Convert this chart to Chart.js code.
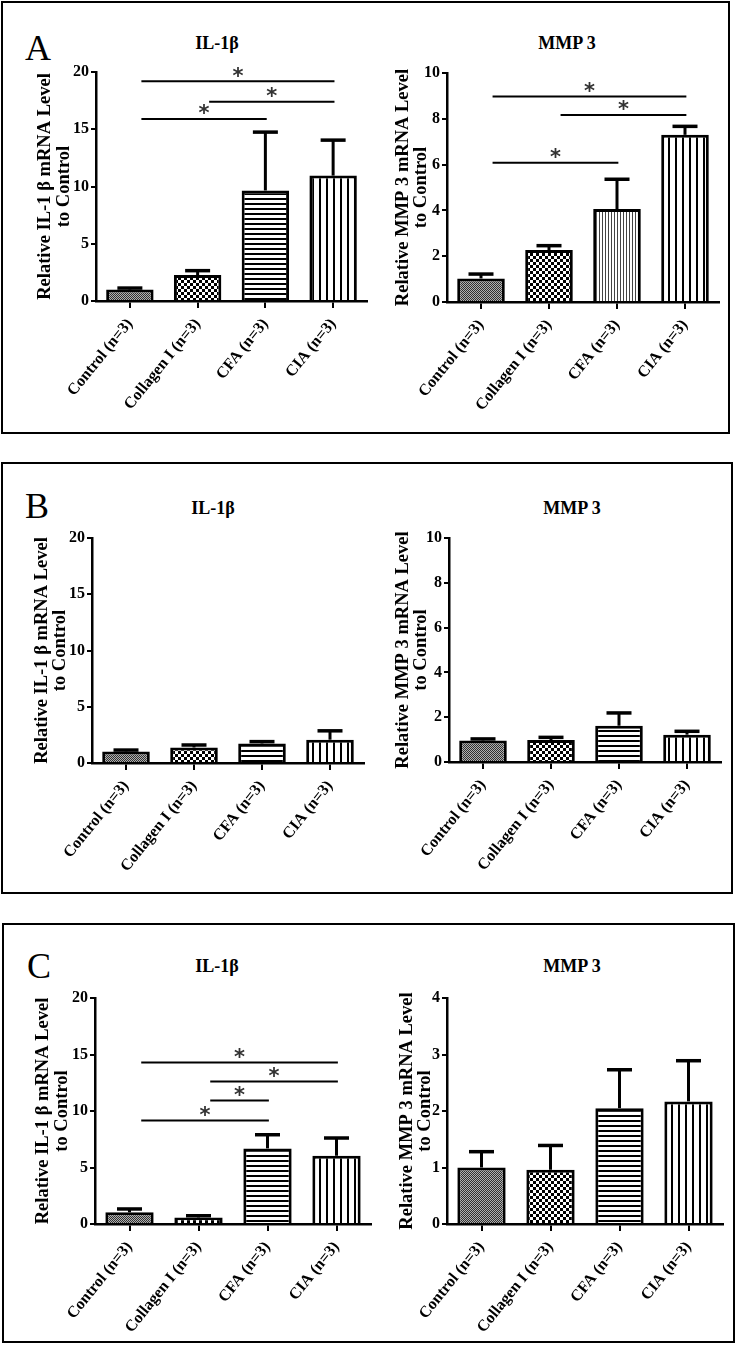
<!DOCTYPE html>
<html>
<head>
<meta charset="utf-8">
<script src="https://cdn.jsdelivr.net/npm/chart.js@4.4.0/dist/chart.umd.min.js"></script>
<style>
  body { margin: 0; background: #fff; }
  #page { position: relative; width: 737px; height: 1357px; background: #fff; overflow: hidden; }
  .panel { position: absolute; border: 2px solid #000; box-sizing: border-box; }
  .letter { position: absolute; font-family: "Liberation Serif", serif; font-size: 36px; line-height: 1; color: #000; }
  .title { position: absolute; font-family: "Liberation Serif", serif; font-weight: bold; font-size: 18px; line-height: 1; color: #000; transform: translate(-50%, -50%); white-space: nowrap; }
  canvas { position: absolute; }
</style>
</head>
<body>
<div id="page">
  <div class="panel" style="left:1px;top:1px;width:729px;height:433px"></div>
  <div class="panel" style="left:1px;top:462px;width:732px;height:432px"></div>
  <div class="panel" style="left:2px;top:923px;width:733px;height:420px"></div>

  <div class="letter" style="left:25px;top:30px">A</div>
  <div class="letter" style="left:25px;top:488px">B</div>
  <div class="letter" style="left:27px;top:948px">C</div>

  <div class="title" style="left:217px;top:43px">IL-1β</div>
  <div class="title" style="left:567px;top:43px">MMP 3</div>
  <div class="title" style="left:213px;top:508px">IL-1β</div>
  <div class="title" style="left:572px;top:508px">MMP 3</div>
  <div class="title" style="left:217px;top:966px">IL-1β</div>
  <div class="title" style="left:572px;top:966px">MMP 3</div>

  <canvas id="aIL"></canvas>
  <canvas id="aMMP"></canvas>
  <canvas id="bIL"></canvas>
  <canvas id="bMMP"></canvas>
  <canvas id="cIL"></canvas>
  <canvas id="cMMP"></canvas>
</div>

<script>
const categories = ['Control (n=3)', 'Collagen I (n=3)', 'CFA (n=3)', 'CIA (n=3)'];

// Panel A (means, upper SEM)
const ilA = [1.0, 2.27, 9.65, 10.95];
const ilAErr = [0.13, 0.38, 5.1, 3.1];
const mmpA = [1.03, 2.27, 4.06, 7.3];
const mmpAErr = [0.19, 0.19, 1.3, 0.37];

// Panel B
const ilB = [1.03, 1.38, 1.74, 2.07];
const ilBErr = [0.12, 0.22, 0.16, 0.79];
const mmpB = [0.96, 0.98, 1.62, 1.22];
const mmpBErr = [0.07, 0.12, 0.57, 0.15];

// Panel C
const ilC = [1.03, 0.58, 6.69, 6.04];
const ilCErr = [0.3, 0.15, 1.21, 1.57];
const mmpC = [1.0, 0.96, 2.05, 2.17];
const mmpCErr = [0.28, 0.43, 0.68, 0.72];

// significance brackets: group from, group to, height
const sigFromA_IL = [0, 1, 0];
const sigToA_IL = [3, 3, 2];
const sigYA_IL = [19.2, 17.4, 15.9];
const sigFromA_MMP = [0, 1, 0];
const sigToA_MMP = [3, 3, 2];
const sigYA_MMP = [8.97, 8.17, 6.08];
const sigFromC_IL = [0, 1, 1, 0];
const sigToC_IL = [3, 3, 2, 2];
const sigYC_IL = [14.3, 12.62, 10.94, 9.17];

const ilTicks = [0, 5, 10, 15, 20];
const mmpTicks = [0, 2, 4, 6, 8, 10];
const mmpCTicks = [0, 1, 2, 3, 4];

const ilTitle = ['Relative IL-1 β mRNA Level', 'to Control'];
const mmpTitle = ['Relative MMP 3 mRNA Level', 'to Control'];

// fill patterns
function makePattern(w, h, draw) {
    let c = document.createElement('canvas');
    c.width = w; c.height = h;
    let g = c.getContext('2d');
    g.fillStyle = '#fff';
    g.fillRect(0, 0, w, h);
    draw(g);
    return g.createPattern(c, 'repeat');
}

const fineGray = makePattern(2, 2, g => {
    g.fillStyle = '#b0b0b0'; g.fillRect(0, 0, 2, 2);
    g.fillStyle = '#303030'; g.fillRect(0, 0, 1, 1); g.fillRect(1, 1, 1, 1);
});
const checker = makePattern(6, 6, g => {
    g.fillStyle = '#000'; g.fillRect(3, 0, 3, 3); g.fillRect(0, 3, 3, 3);
});
const hLines = makePattern(1, 5, g => {
    g.fillStyle = '#000'; g.fillRect(0, 0, 1, 2);
});
const vLines = makePattern(7, 1, g => {
    g.fillStyle = '#000'; g.fillRect(0, 0, 2, 1);
});
const vFine = makePattern(3, 1, g => {
    g.fillStyle = '#444'; g.fillRect(0, 0, 1, 1);
});

const fillsStd = [fineGray, checker, hLines, vLines];
const fillsAMMP = [fineGray, checker, vFine, vLines];

const serif = '"Liberation Serif", "Times New Roman", serif';

const errorBars = {
    id: 'errorBars',
    afterDatasetsDraw(chart, args, opts) {
        const ctx = chart.ctx;
        const yS = chart.scales.y;
        const meta = chart.getDatasetMeta(0);
        const vals = chart.data.datasets[0].data;
        ctx.save();
        ctx.strokeStyle = '#000';
        meta.data.forEach((bar, i) => {
            let top = yS.getPixelForValue(vals[i] + opts.err[i]);
            ctx.lineWidth = 3;
            ctx.beginPath();
            ctx.moveTo(bar.x, bar.y);
            ctx.lineTo(bar.x, top);
            ctx.stroke();
            ctx.lineWidth = 3.5;
            ctx.beginPath();
            ctx.moveTo(bar.x - 12.5, top);
            ctx.lineTo(bar.x + 12.5, top);
            ctx.stroke();
        });
        ctx.restore();
    }
};

const sigBars = {
    id: 'sigBars',
    afterDraw(chart, args, opts) {
        if (!opts.from) return;
        const ctx = chart.ctx;
        const xS = chart.scales.x, yS = chart.scales.y;
        ctx.save();
        ctx.strokeStyle = '#000';
        ctx.lineWidth = 2;
        ctx.fillStyle = '#333';
        ctx.font = 'bold 21px "DejaVu Sans"';
        ctx.textAlign = 'center';
        ctx.textBaseline = 'middle';
        for (let i = 0; i < opts.from.length; i++) {
            let x1 = xS.getPixelForValue(opts.from[i] + 0.17);
            let x2 = xS.getPixelForValue(opts.to[i] + 0.02);
            let y = yS.getPixelForValue(opts.y[i]);
            ctx.beginPath();
            ctx.moveTo(x1, y);
            ctx.lineTo(x2, y);
            ctx.stroke();
            ctx.fillText('*', (x1 + x2) / 2, y - 4);
        }
        ctx.restore();
    }
};

function drawChart(id, box, plot, values, err, fills, ticks, yTitle, titlePad, sig) {
    const canvas = document.getElementById(id);
    const w = box.right - box.left, h = box.bottom - box.top;
    canvas.width = w; canvas.height = h;
    canvas.style.left = box.left + 'px';
    canvas.style.top = box.top + 'px';
    canvas.style.width = w + 'px';
    canvas.style.height = h + 'px';

    return new Chart(canvas, {
        type: 'bar',
        data: {
            labels: categories,
            datasets: [{
                data: values,
                backgroundColor: fills,
                borderColor: '#000',
                borderWidth: 3,
                borderSkipped: 'bottom',
                barPercentage: 0.7,
                categoryPercentage: 1
            }]
        },
        options: {
            responsive: false,
            animation: false,
            devicePixelRatio: 1,
            layout: {
                padding: { left: 0, top: plot.top - box.top, right: box.right - plot.right, bottom: 0 }
            },
            plugins: {
                legend: { display: false },
                tooltip: { enabled: false },
                errorBars: { err: err },
                sigBars: sig || {}
            },
            scales: {
                x: {
                    grid: { offset: false, drawOnChartArea: false, tickLength: 7, color: '#000', lineWidth: 2 },
                    border: { color: '#000', width: 2.5 },
                    ticks: {
                        autoSkip: false, minRotation: 51, maxRotation: 51, padding: 7, color: '#000',
                        font: { family: serif, weight: 'bold', size: 16 }
                    },
                    afterFit: s => { s.height = box.bottom - plot.bottom; }
                },
                y: {
                    min: ticks[0],
                    max: ticks[ticks.length - 1],
                    afterBuildTicks: s => { s.ticks = ticks.map(v => ({ value: v })); },
                    grid: { drawOnChartArea: false, tickLength: 5, color: '#000', lineWidth: 2 },
                    border: { color: '#000', width: 2.5 },
                    ticks: { padding: 2, color: '#000', font: { family: serif, weight: 'bold', size: 16 } },
                    title: {
                        display: true, text: yTitle, color: '#000',
                        font: { family: serif, weight: 'bold', size: 18.5, lineHeight: 1.0 },
                        padding: { top: titlePad, bottom: 0 }
                    },
                    afterFit: s => { s.width = plot.left - box.left; }
                }
            }
        },
        plugins: [errorBars, sigBars]
    });
}

drawChart('aIL', { left: 4, top: 58, right: 372, bottom: 430 }, { left: 96, top: 72, right: 367, bottom: 301 },
    ilA, ilAErr, fillsStd, ilTicks, ilTitle, 32,
    { from: sigFromA_IL, to: sigToA_IL, y: sigYA_IL });
drawChart('aMMP', { left: 374, top: 58, right: 727, bottom: 430 }, { left: 447, top: 73, right: 719, bottom: 302 },
    mmpA, mmpAErr, fillsAMMP, mmpTicks, mmpTitle, 19.5,
    { from: sigFromA_MMP, to: sigToA_MMP, y: sigYA_MMP });
drawChart('bIL', { left: 4, top: 520, right: 372, bottom: 890 }, { left: 92, top: 538, right: 364, bottom: 763 },
    ilB, ilBErr, fillsStd, ilTicks, ilTitle, 28.5, null);
drawChart('bMMP', { left: 374, top: 520, right: 729, bottom: 890 }, { left: 449, top: 538, right: 721, bottom: 762 },
    mmpB, mmpBErr, fillsStd, mmpTicks, mmpTitle, 19.5, null);
drawChart('cIL', { left: 4, top: 980, right: 375, bottom: 1339 }, { left: 95, top: 998, right: 371, bottom: 1224 },
    ilC, ilCErr, fillsStd, ilTicks, ilTitle, 30,
    { from: sigFromC_IL, to: sigToC_IL, y: sigYC_IL });
drawChart('cMMP', { left: 377, top: 980, right: 731, bottom: 1339 }, { left: 447, top: 998, right: 723, bottom: 1224 },
    mmpC, mmpCErr, fillsStd, mmpCTicks, mmpTitle, 20.5, null);
</script>
</body>
</html>
